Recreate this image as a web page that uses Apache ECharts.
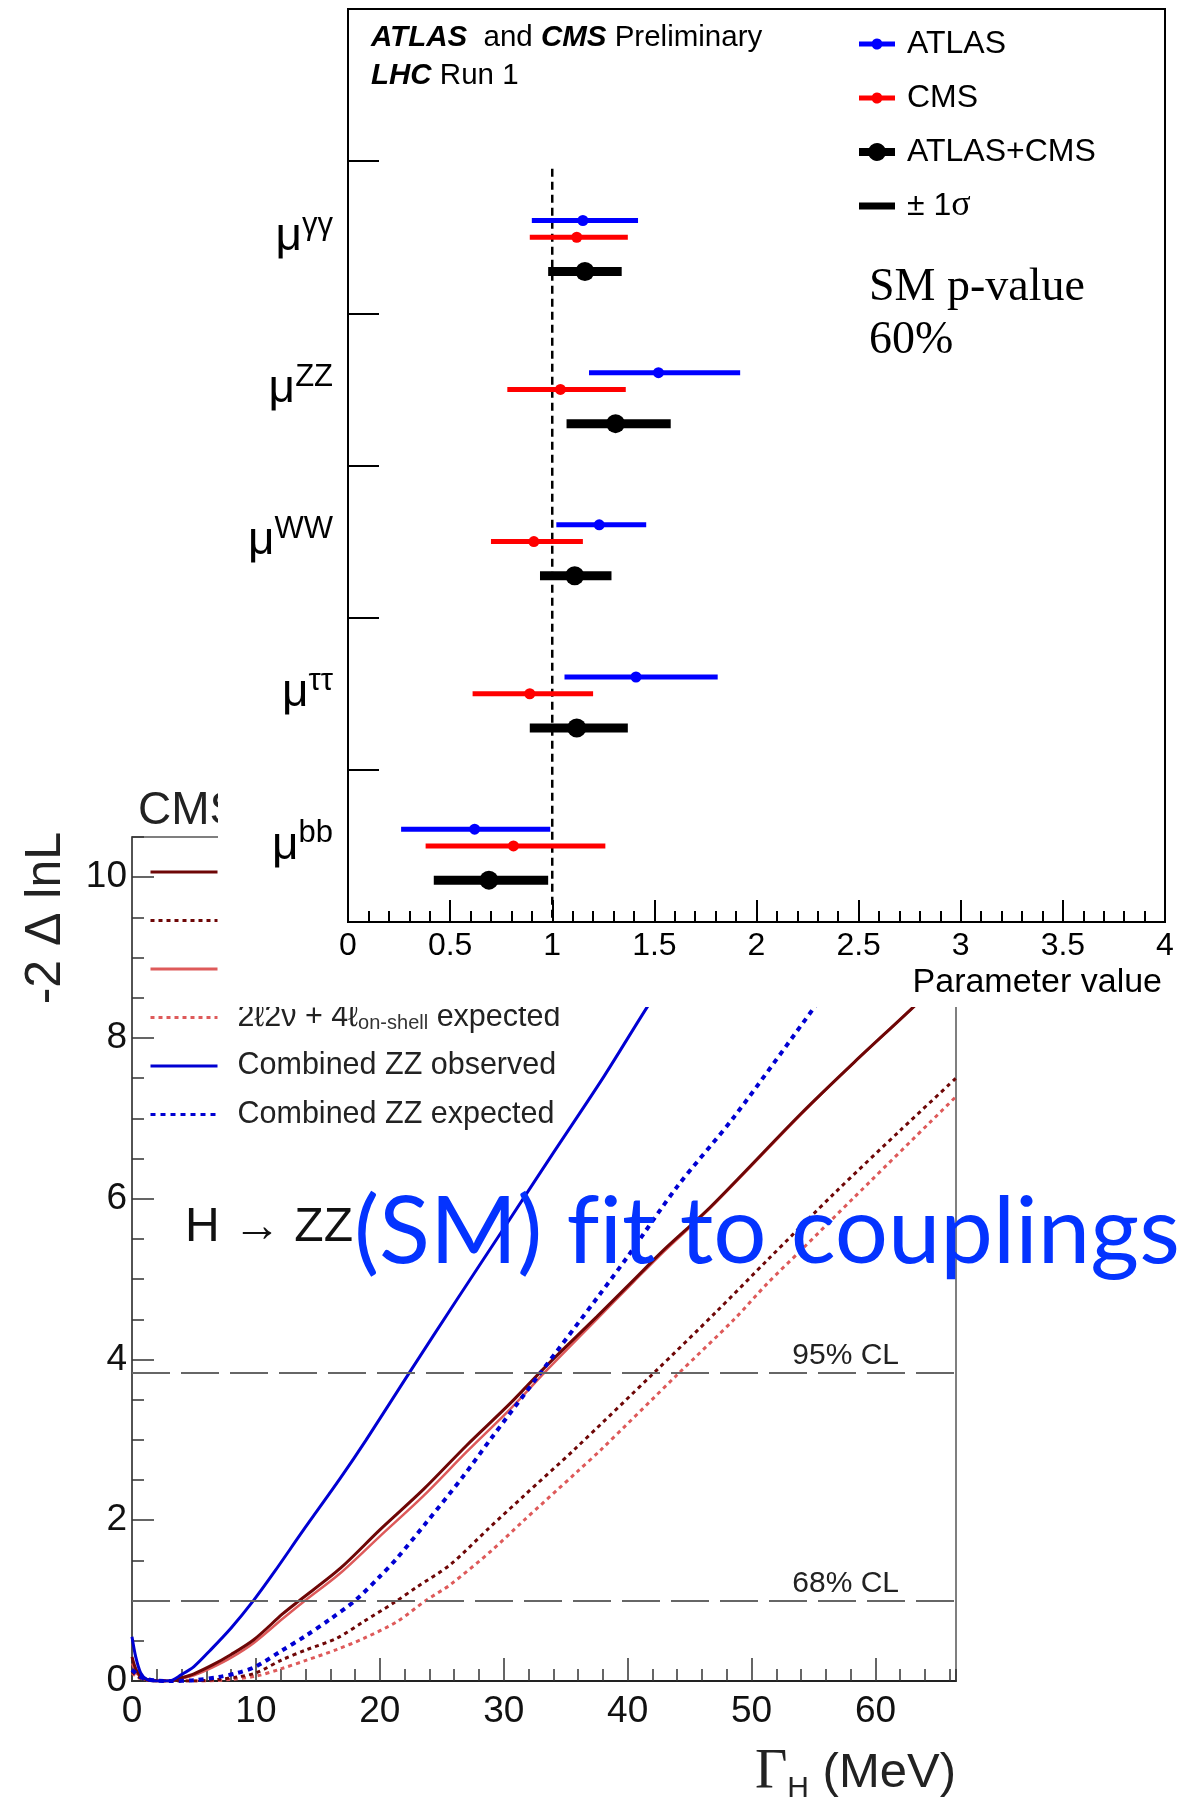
<!DOCTYPE html>
<html><head><meta charset="utf-8">
<script src="https://cdn.jsdelivr.net/npm/echarts@6/dist/echarts.min.js"></script>
<style>
html,body{margin:0;padding:0;background:#fff;}
#bottom{position:absolute;left:0;top:0;width:1196px;height:1799px;}
#top{position:absolute;left:218px;top:0;width:978px;height:1007px;background:#fff;z-index:2;}
</style></head><body>
<div id="bottom"></div><div id="top"></div>
<script>
// ===== Top chart: signal strengths per decay channel =====
const channels = ['γγ', 'ZZ', 'WW', 'ττ', 'bb'];
const atlasVal = [1.15, 1.52, 1.23, 1.41, 0.62];
const atlasLo  = [0.90, 1.18, 1.02, 1.06, 0.26];
const atlasHi  = [1.42, 1.92, 1.46, 1.81, 0.99];
const cmsVal   = [1.12, 1.04, 0.91, 0.89, 0.81];
const cmsLo    = [0.89, 0.78, 0.70, 0.61, 0.38];
const cmsHi    = [1.37, 1.36, 1.15, 1.20, 1.26];
const combVal  = [1.16, 1.31, 1.11, 1.12, 0.69];
const combLo   = [0.98, 1.07, 0.94, 0.89, 0.42];
const combHi   = [1.34, 1.58, 1.29, 1.37, 0.98];
const smValue  = 1;
const topXTicks = [0, 0.5, 1, 1.5, 2, 2.5, 3, 3.5, 4];

// ===== Bottom chart: -2ΔlnL vs Γ_H (MeV) =====
const combObs = [[0,0.55],[0.3,0.3],[0.7,0.1],[1.2,0.02],[2,0],[3,0],[4,0.08],[5,0.18],[6.3,0.38],[8,0.66],[9.8,1.0],[11.5,1.36],[13.8,1.87],[16.8,2.52],[18.9,3.0],[22.4,3.84],[26.2,4.74],[30,5.63],[34,6.57],[38,7.5],[41.6,8.39],[46,9.43],[50.5,10.5]];
const combExp = [[0,0.14],[0.5,0.07],[1,0.03],[2,0.005],[3,0],[5,0.01],[7,0.05],[8.5,0.1],[10,0.18],[12,0.37],[14,0.56],[16,0.77],[18,1.0],[20,1.3],[21.4,1.53],[23.8,1.98],[26.7,2.54],[28.9,3.0],[33,3.84],[37.8,4.82],[40,5.28],[44,6.15],[48.6,7.02],[55.3,8.43],[60,9.4],[65,10.4],[66.5,10.7]];
const fourLObs = [[0,0.3],[0.4,0.12],[1,0.03],[2,0],[3,0],[4,0.04],[5,0.09],[6.5,0.2],[8,0.33],[9.8,0.51],[12.2,0.84],[13.5,1.0],[16.8,1.4],[20,1.88],[23.5,2.38],[27,2.93],[30.5,3.45],[33.5,3.93],[37.5,4.53],[40.5,4.99],[42.9,5.36],[46.7,5.9],[54,7.06],[58.3,7.7],[63.1,8.39],[66.5,8.9]];
const fourLExp = [[0,0.12],[0.5,0.05],[1.5,0.01],[3,0],[5,0],[7,0.02],[8.5,0.05],[10,0.1],[12.06,0.26],[14.1,0.39],[16.5,0.53],[18.7,0.74],[21.1,0.97],[23,1.17],[25.7,1.45],[28.8,1.9],[31.6,2.3],[35.7,2.88],[42.1,3.83],[47.2,4.6],[51.3,5.24],[56.7,6.07],[62,6.85],[66.5,7.5]];
const twoLObs = [[0,0.22],[0.4,0.09],[1,0.02],[2,0],[3,0],[4,0.03],[5,0.07],[6.5,0.17],[8,0.29],[9.8,0.47],[12.2,0.78],[13.8,0.98],[16.8,1.34],[20,1.8],[23.5,2.3],[27,2.85],[30.5,3.38],[33.5,3.87],[37.5,4.5],[40.5,4.97],[42.9,5.34],[46.7,5.89],[54,7.05],[58.3,7.7],[63.1,8.39],[66.5,8.9]];
const twoLExp = [[0,0.1],[0.5,0.04],[1.5,0.01],[3,0],[6,0],[8,0.02],[10,0.06],[12,0.15],[14.1,0.26],[16.5,0.39],[18.7,0.53],[21.4,0.74],[23.7,1.0],[25.7,1.2],[29,1.62],[31.5,1.98],[35.9,2.6],[37.8,2.87],[44,3.81],[48.6,4.5],[51.3,4.95],[54,5.36],[58.3,6.02],[66.5,7.27]];
const clLevels = [3.84, 1];
const clLabels = ['95% CL', '68% CL'];
const bottomNames = ['4ℓ observed', '4ℓ expected', '2ℓ2ν + 4ℓ on-shell observed', '2ℓ2ν + 4ℓ on-shell expected', 'Combined ZZ observed', 'Combined ZZ expected'];

const SANS = 'Liberation Sans, Arial, Helvetica, sans-serif';
const SERIF = 'Liberation Serif, Times New Roman, serif';
const HUMAN = 'Lato, Open Sans, sans-serif';

// ---------- bottom chart ----------
const bottomChart = echarts.init(document.getElementById('bottom'), null, {renderer: 'canvas'});
const DARK = '#6e0606', LIGHT = '#de5a5a', BLUE = '#0000d2';
function curve(name, data, color, width, type, z) {
  return {type: 'line', name, data, xAxisIndex: 0, yAxisIndex: 0, symbol: 'none', smooth: 0.3,
    lineStyle: {color, width, type}, itemStyle: {color}, z: z, clip: true};
}
const axisCol = '#333';
const bottomOption = {
  animation: false,
  grid: {left: 132, top: 837, width: 824, height: 844, show: true, borderColor: '#555', borderWidth: 1.5, backgroundColor: 'transparent'},
  xAxis: [
    {type: 'value', min: 0, max: 66.5, interval: 10, position: 'bottom',
      axisLine: {onZero: false, lineStyle: {color: '#222', width: 2}},
      axisTick: {show: true, inside: true, length: 23, lineStyle: {color: axisCol, width: 1.5}},
      axisLabel: {fontSize: 37, color: '#111', margin: 12, fontFamily: SANS, showMaxLabel: false},
      splitLine: {show: false}},
    {type: 'value', min: 0, max: 66.5, interval: 2, position: 'bottom',
      axisLine: {show: false, onZero: false}, axisLabel: {show: false}, splitLine: {show: false},
      axisTick: {show: true, inside: true, length: 12, lineStyle: {color: axisCol, width: 1.5}}}
  ],
  yAxis: [
    {type: 'value', min: 0, max: 10.5, interval: 2, position: 'left',
      axisLine: {show: true, onZero: false, lineStyle: {color: '#444', width: 1.5}},
      axisTick: {show: true, inside: true, length: 22, lineStyle: {color: axisCol, width: 1.5}},
      axisLabel: {fontSize: 37, color: '#111', margin: 5, fontFamily: SANS, showMaxLabel: false},
      splitLine: {show: false}},
    {type: 'value', min: 0, max: 10.5, interval: 0.5, position: 'left',
      axisLine: {show: false, onZero: false}, axisLabel: {show: false}, splitLine: {show: false},
      axisTick: {show: true, inside: true, length: 12, lineStyle: {color: axisCol, width: 1.5}}}
  ],
  legend: {
    orient: 'vertical', left: 149, top: 856, padding: 0, itemWidth: 67, itemHeight: 30, itemGap: 16.5,
    selectedMode: false, data: bottomNames,
    itemStyle: {opacity: 0},
    lineStyle: {width: 3},
    textStyle: {fontSize: 30.5, color: '#222', fontFamily: SANS, lineHeight: 32, padding: [0, 0, 0, 15],
      rich: {m: {fontSize: 30.5, fontFamily: SANS, color: '#222', lineHeight: 32},
             sub: {fontSize: 20, fontFamily: SANS, color: '#333', lineHeight: 20, padding: [12, 0, 0, 0]}}},
    formatter: function (n) {
      if (n.indexOf('on-shell') >= 0) {
        const parts = n.split(' on-shell ');
        return '{m|' + parts[0] + '}{sub|on-shell}{m| ' + parts[1] + '}';
      }
      return n;
    }
  },
  series: [
    curve(bottomNames[0], fourLObs, DARK, 3, 'solid', 3),
    curve(bottomNames[1], fourLExp, DARK, 3, [4, 4], 3),
    curve(bottomNames[2], twoLObs, LIGHT, 2.5, 'solid', 2),
    curve(bottomNames[3], twoLExp, LIGHT, 3, [4, 4], 2),
    Object.assign(curve(bottomNames[4], combObs, BLUE, 3, 'solid', 4), {
      markLine: {
        silent: true, symbol: 'none', animation: false,
        lineStyle: {color: '#666', width: 2, type: [38, 11]},
        label: {show: true, position: 'insideEndTop', distance: 2, fontSize: 30, fontFamily: SANS, color: '#222', padding: [0, 55, 0, 0]},
        data: clLevels.map((v, i) => ({yAxis: v, label: {formatter: clLabels[i]}}))
      }
    }),
    curve(bottomNames[5], combExp, BLUE, 4, [5, 5], 4)
  ],
  graphic: [
    {type: 'text', x: 138, y: 811, z: 50, style: {text: 'CMS', fontSize: 46, fontFamily: SANS, fill: '#222', verticalAlign: 'middle'}},
    {type: 'text', x: 185, y: 1228, z: 90, style: {text: 'H → ZZ', fontSize: 48, fontFamily: SANS, fill: '#111', verticalAlign: 'middle'}},
    {type: 'text', x: 46, y: 832, rotation: Math.PI / 2, z: 50, style: {text: '-2 Δ lnL', fontSize: 50, fontFamily: SANS, fill: '#222', align: 'right', verticalAlign: 'middle'}},
    {type: 'text', x: 956, y: 1773, z: 50, style: {text: '{g|Γ}{h|H}{t| (MeV)}', align: 'right', verticalAlign: 'middle',
      rich: {g: {fontSize: 56, fontFamily: SERIF, fill: '#222'}, h: {fontSize: 30, fontFamily: SANS, fill: '#222', padding: [32, 0, 0, 0]}, t: {fontSize: 49, fontFamily: SANS, fill: '#222'}}}},
    {type: 'text', x: 354, y: 1233, z: 100, style: {text: '{a|(SM) f}{a|it to couplings}', verticalAlign: 'middle',
      rich: {a: {fontSize: 94, fontFamily: HUMAN, fill: '#0433ff'}}}}
  ]
};
bottomChart.setOption(bottomOption);

// ---------- top chart ----------
const topChart = echarts.init(document.getElementById('top'), null, {renderer: 'canvas'});
const NBANDS = 6;
const offsets = {atlas: 0.39, cms: 0.50, comb: 0.725};
// vertical position on a 0..6 value axis (0 at the bottom), band i+1 from the top
function rows(val, lo, hi, off) {
  return val.map((v, i) => [v, lo[i], hi[i], NBANDS - (i + 1 + off)]);
}
function makeRender(barW, r) {
  return function (params, api) {
    const y = api.value(3);
    const c = api.coord([api.value(0), y]);
    const a = api.coord([api.value(1), y]);
    const b = api.coord([api.value(2), y]);
    const color = api.visual('color');
    return {type: 'group', children: [
      {type: 'line', shape: {x1: a[0], y1: a[1], x2: b[0], y2: b[1]}, style: {stroke: color, lineWidth: barW}},
      {type: 'circle', shape: {cx: c[0], cy: c[1], r: r}, style: {fill: color}}
    ]};
  };
}
const specks = 'M0,0L0.05,0L0,0.05Z M36,18L35.95,18L36,17.95Z ';
const iconSmall = 'path://' + specks + 'M0,6.5L13.1,6.5A5.5,5.5 0 0,1 22.9,6.5L36,6.5L36,11.5L22.9,11.5A5.5,5.5 0 0,1 13.1,11.5L0,11.5Z';
const iconBig = 'path://' + specks + 'M0,5L9.94,5A9,9 0 0,1 26.06,5L36,5L36,13L26.06,13A9,9 0 0,1 9.94,13L0,13Z';
const iconSigma = 'path://' + specks + 'M0,5.5L36,5.5L36,12.5L0,12.5Z';

const topOption = {
  animation: false,
  grid: {left: 130, top: 9, right: 31, bottom: 85, show: true, borderColor: '#000', borderWidth: 2, backgroundColor: 'transparent'},
  xAxis: [
    {type: 'value', min: 0, max: 4, interval: 0.5, position: 'bottom',
      axisLine: {show: true, lineStyle: {color: '#000', width: 2}},
      axisTick: {show: true, inside: true, length: 22, lineStyle: {color: '#000', width: 2}},
      minorTick: {show: true, splitNumber: 5, length: 11, lineStyle: {color: '#000', width: 2}},
      axisLabel: {fontSize: 32, color: '#000', margin: 8, fontFamily: SANS,
        formatter: v => topXTicks.indexOf(v) >= 0 ? String(v) : ''},
      splitLine: {show: false}, minorSplitLine: {show: false}}
  ],
  yAxis: [
    {type: 'value', min: 0, max: NBANDS, show: false},
    {type: 'category', inverse: true, data: [''].concat(channels), position: 'left',
      axisLine: {show: true, onZero: false, lineStyle: {color: '#000', width: 2}},
      axisTick: {show: true, inside: true, length: 31, lineStyle: {color: '#000', width: 2}},
      axisLabel: {margin: 15, formatter: v => v ? '{mu|μ}{sup|' + v + '}' : '',
        rich: {mu: {fontSize: 46, fontFamily: SANS, color: '#000', lineHeight: 50},
               sup: {fontSize: 31, fontFamily: SANS, color: '#000', lineHeight: 30, padding: [0, 0, 24, 0]}}},
      splitLine: {show: false}}
  ],
  legend: {
    orient: 'vertical', left: 641, top: 26, padding: 0, itemWidth: 36, itemHeight: 18, itemGap: 18,
    selectedMode: false,
    textStyle: {fontSize: 32, color: '#000', fontFamily: SANS, lineHeight: 36, padding: [0, 0, 0, 7],
      rich: {n: {fontSize: 32, fontFamily: SANS, color: '#000', lineHeight: 36}, s: {fontSize: 36, fontFamily: SERIF, color: '#000', lineHeight: 36}}},
    formatter: n => n === '± 1σ' ? '{n|± 1}{s|σ}' : n,
    data: [{name: 'ATLAS', icon: iconSmall}, {name: 'CMS', icon: iconSmall}, {name: 'ATLAS+CMS', icon: iconBig}, {name: '± 1σ', icon: iconSigma}]
  },
  series: [
    {type: 'line', name: 'SM', xAxisIndex: 0, yAxisIndex: 0, data: [[smValue, NBANDS - 1.05], [smValue, 0]], symbol: 'none',
      lineStyle: {color: '#000', width: 2.5, type: [8, 5]}, z: 1, silent: true},
    {type: 'custom', name: 'ATLAS', xAxisIndex: 0, yAxisIndex: 0, itemStyle: {color: '#0000ff'},
      data: rows(atlasVal, atlasLo, atlasHi, offsets.atlas), renderItem: makeRender(5, 5.5), z: 3},
    {type: 'custom', name: 'CMS', xAxisIndex: 0, yAxisIndex: 0, itemStyle: {color: '#ff0000'},
      data: rows(cmsVal, cmsLo, cmsHi, offsets.cms), renderItem: makeRender(5, 5.5), z: 3},
    {type: 'custom', name: 'ATLAS+CMS', xAxisIndex: 0, yAxisIndex: 0, itemStyle: {color: '#000000'},
      data: rows(combVal, combLo, combHi, offsets.comb), renderItem: makeRender(9, 9.5), z: 3},
    {type: 'custom', name: '± 1σ', xAxisIndex: 0, yAxisIndex: 0, itemStyle: {color: '#000000'},
      data: [], renderItem: makeRender(8, 0)}
  ],
  graphic: [
    {type: 'text', x: 153, y: 38, style: {text: '{bi|ATLAS}{n|  and }{bi|CMS}{n| Preliminary}', verticalAlign: 'middle',
      rich: {bi: {fontSize: 29.5, fontFamily: SANS, fontWeight: 'bold', fontStyle: 'italic', fill: '#000'}, n: {fontSize: 29.5, fontFamily: SANS, fill: '#000'}}}},
    {type: 'text', x: 153, y: 76, style: {text: '{bi|LHC}{n| Run 1}', verticalAlign: 'middle',
      rich: {bi: {fontSize: 29.5, fontFamily: SANS, fontWeight: 'bold', fontStyle: 'italic', fill: '#000'}, n: {fontSize: 29.5, fontFamily: SANS, fill: '#000'}}}},
    {type: 'text', x: 651, y: 288, style: {text: 'SM p-value', fontSize: 46, fontFamily: SERIF, fill: '#000', verticalAlign: 'middle'}},
    {type: 'text', x: 651, y: 341, style: {text: '60%', fontSize: 46, fontFamily: SERIF, fill: '#000', verticalAlign: 'middle'}},
    {type: 'text', x: 944, y: 983, style: {text: 'Parameter value', fontSize: 34, fontFamily: SANS, fill: '#000', align: 'right', verticalAlign: 'middle'}}
  ]
};
topChart.setOption(topOption);
</script>
</body></html>
